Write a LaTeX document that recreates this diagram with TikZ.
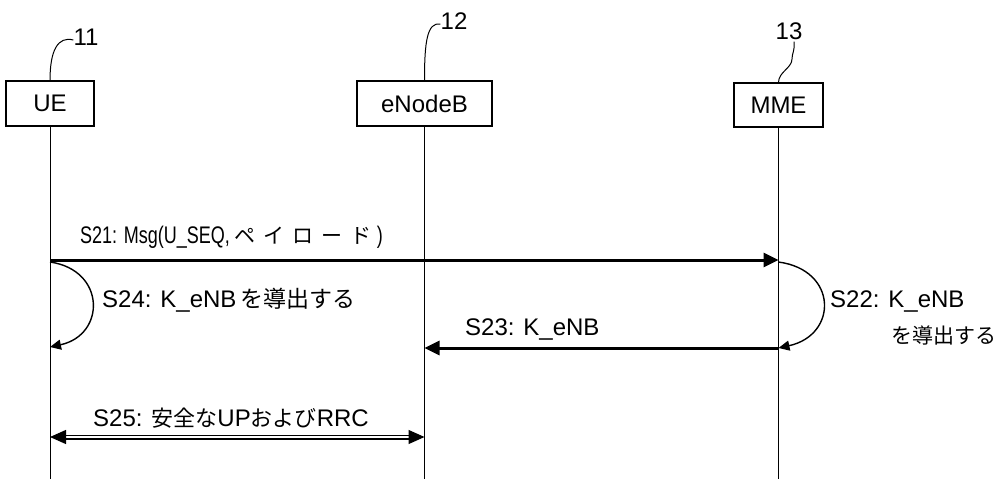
\documentclass[tikz,border=0pt]{standalone}
\usepackage{fontspec}
\setmainfont{Liberation Sans}
\newfontfamily\narrowfont{Liberation Sans}[FakeStretch=0.75]
\newfontfamily\jp{Noto Sans CJK JP}
\usetikzlibrary{arrows.meta}
\begin{document}
\begin{tikzpicture}[x=1pt,y=-1pt,
  entity/.style={draw,line width=1.2pt,minimum height=45pt,inner sep=0pt,font=\fontsize{24}{28}\selectfont},
  lifeline/.style={line width=1pt},
  leader/.style={line width=1pt},
  msg/.style={line width=3pt,-{Triangle[length=15pt,width=14pt]}},
  selfloop/.style={line width=1.4pt,-{Triangle[length=11pt,width=10pt]}},
  dblmsg/.style={line width=1.2pt,double=white,double distance=2.6pt,{Triangle[length=16pt,width=14pt]}-{Triangle[length=16pt,width=14pt]}},
  lbl/.style={inner sep=0pt,anchor=west,font=\fontsize{24}{28}\selectfont},
  num/.style={inner sep=0pt,font=\fontsize{24}{28}\selectfont}]
\useasboundingbox[fill=white] (0,0) rectangle (1006,479);
% entities
\node[entity,minimum width=88pt] (ue) at (50,103.5) {UE};
\node[entity,minimum width=135pt] (enb) at (424.5,103.5) {eNodeB};
\node[entity,minimum width=89pt,minimum height=44pt] (mme) at (778.5,105) {MME};
% reference numbers
\node[num] (l11) at (86,37) {11};
\node[num] (l12) at (454,21) {12};
\node[num] (l13) at (789,31) {13};
\draw[leader] (ue.north) .. controls (50,50) and (58,36) .. ([yshift=-3pt]l11.west);
\draw[leader] (enb.north) .. controls (424.5,42) and (427,22) .. ([yshift=-3pt]l12.west);
\draw[leader] (mme.north) .. controls (778.5,72) and (792,68) .. (792,59) .. controls (792,53) and (795,51) .. ([xshift=5pt,yshift=-2pt]l13.south);
% lifelines
\coordinate (ueb) at (ue.south |- 0,479);
\coordinate (enbb) at (enb.south |- 0,479);
\coordinate (mmeb) at (mme.south |- 0,479);
\draw[lifeline] (ue.south) -- (ueb);
\draw[lifeline] (enb.south) -- (enbb);
\draw[lifeline] (mme.south) -- (mmeb);
% message points
\coordinate (ue21) at (ue.south |- 0,260);
\coordinate (mme21) at (mme.south |- 0,260);
\coordinate (ue24a) at (ue.south |- 0,262);
\coordinate (ue24b) at (ue.south |- 0,347);
\coordinate (mme22a) at (mme.south |- 0,262);
\coordinate (mme22b) at (mme.south |- 0,348);
\coordinate (mme23) at (mme.south |- 0,348);
\coordinate (enb23) at (enb.south |- 0,348);
\coordinate (ue25) at (ue.south |- 0,437);
\coordinate (enb25) at (enb.south |- 0,437);
% messages
\draw[msg] (ue21) -- (mme21);
\node[lbl] (t21) at (80,237) {{\narrowfont S21: Msg(U\_SEQ, }{\jp\fontsize{21}{24}\selectfont ペ\hspace{8pt}イ\hspace{8pt}ロ\hspace{8pt}ー\hspace{8pt}ド}{\narrowfont\ )}};
\draw[selfloop] (ue24a) .. controls (106,270) and (106,335) .. (ue24b);
\node[lbl] (t24) at (102,300) {S24: K\_eNB\,{\jp\fontsize{23}{28}\selectfont を導出する}};
\draw[selfloop] (mme22a) .. controls (838,270) and (838,335) .. (mme22b);
\node[lbl] (t22a) at (830,302) {S22: K\_eNB};
\node[lbl] (t22b) at (891,335) {\jp\fontsize{21}{26}\selectfont を導出する};
\draw[msg] (mme23) -- (enb23);
\node[lbl] (t23) at (465,330) {S23: K\_eNB};
\draw[dblmsg] (ue25) -- (enb25);
\node[lbl] (t25) at (93,418) {S25: {\jp\fontsize{22}{26}\selectfont 安全な}UP{\jp\fontsize{22}{26}\selectfont および}RRC};
\end{tikzpicture}
\end{document}
